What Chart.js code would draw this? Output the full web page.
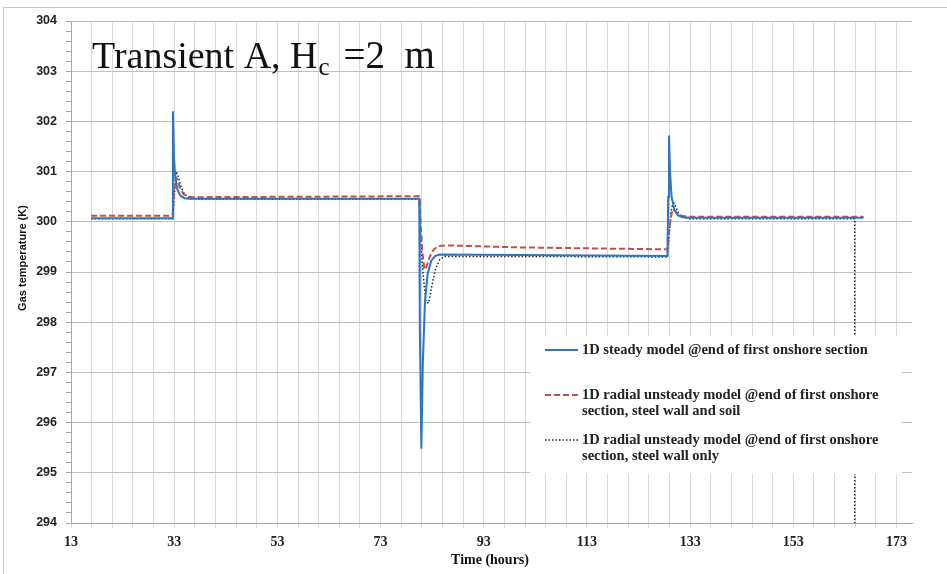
<!DOCTYPE html>
<html>
<head>
<meta charset="utf-8">
<script src="https://cdn.jsdelivr.net/npm/chart.js@4"></script>
<style>
  body { margin: 0; background: #fff; }
  #wrap { position: relative; width: 947px; height: 574px; }
</style>
</head>
<body>
<div id="wrap"><canvas id="chart" width="947" height="574"></canvas></div>
<script>
// x tick labels + axis ranges
const xMin = 13, xMax = 176;
const yMin = 294, yMax = 304;
const xLabelValues = [13, 33, 53, 73, 93, 113, 133, 153, 173];

// 1D steady model
const steadyTime = [16.9, 32.6, 32.75, 32.95, 33.2, 33.6, 34.2, 35, 36, 80.5, 80.6, 80.9, 81.2, 81.6, 82.1, 82.8, 83.6, 84.5, 100, 128.6, 128.75, 128.9, 129.1, 129.4, 129.9, 130.6, 131.5, 133, 166.6];
const steadyTemp = [300.07, 300.07, 302.2, 301.3, 300.9, 300.65, 300.52, 300.47, 300.46, 300.46, 298.0, 295.48, 297.2, 298.4, 298.95, 299.22, 299.32, 299.35, 299.34, 299.32, 300.5, 301.72, 301.0, 300.5, 300.25, 300.13, 300.09, 300.08, 300.08];

// 1D radial unsteady, steel wall and soil
const soilTime = [16.9, 32.7, 33.0, 33.3, 33.6, 34.1, 34.8, 35.8, 37, 80.5, 80.7, 81.1, 81.5, 81.9, 82.5, 83.3, 84.3, 86, 100, 128.6, 128.8, 129.2, 129.6, 130.2, 131, 132.5, 166.6];
const soilTemp = [300.12, 300.12, 300.6, 300.88, 300.85, 300.68, 300.55, 300.5, 300.49, 300.51, 300.1, 299.4, 299.05, 299.1, 299.3, 299.45, 299.52, 299.53, 299.49, 299.45, 299.7, 300.05, 300.25, 300.2, 300.13, 300.1, 300.1];

// 1D radial unsteady, steel wall only
const wallTime = [16.9, 32.7, 33.0, 33.4, 33.8, 34.3, 35, 36, 37.5, 80.5, 80.8, 81.3, 81.8, 82.3, 82.9, 83.6, 84.5, 85.5, 100, 128.6, 128.9, 129.3, 129.7, 130.2, 130.8, 131.8, 133, 164.9, 164.9];
const wallTemp = [300.06, 300.06, 300.5, 301.0, 300.9, 300.7, 300.55, 300.47, 300.45, 300.45, 299.6, 298.9, 298.4, 298.38, 298.7, 299.05, 299.25, 299.31, 299.31, 299.3, 299.7, 300.2, 300.41, 300.3, 300.15, 300.08, 300.06, 300.06, 290];

const seriesNames = [
  ['1D steady model @end of first onshore section'],
  ['1D radial unsteady model @end of first onshore', 'section, steel wall and soil'],
  ['1D radial unsteady model @end of first onshore', 'section, steel wall only']
];

function pairs(xs, ys) {
  return xs.map((x, i) => ({ x: x, y: ys[i] }));
}

// titles, legend box and frame
const decorPlugin = {
  id: 'decor',
  afterDatasetsDraw(chart) {
    const ctx = chart.ctx;
    const ds = chart.data.datasets;
    ctx.save();
    // legend box
    ctx.fillStyle = '#fff';
    ctx.fillRect(530, 336, 372, 138);
    const rows = [350, 395, 440];
    rows.forEach((y, i) => {
      ctx.beginPath();
      ctx.strokeStyle = ds[i].borderColor;
      ctx.lineWidth = ds[i].borderWidth;
      ctx.setLineDash(ds[i].borderDash || []);
      ctx.moveTo(545, y);
      ctx.lineTo(578, y);
      ctx.stroke();
      ctx.setLineDash([]);
      ctx.fillStyle = '#222';
      ctx.font = 'bold 14.5px "Liberation Serif"';
      ctx.textBaseline = 'middle';
      ctx.textAlign = 'left';
      seriesNames[i].forEach((t, j) => ctx.fillText(t, 582, y + j * 16));
    });
    ctx.restore();
  },
  afterDraw(chart) {
    const ctx = chart.ctx;
    ctx.save();
    // frame
    ctx.strokeStyle = '#c8c8c8';
    ctx.lineWidth = 1;
    ctx.beginPath();
    ctx.moveTo(947, 7.5);
    ctx.lineTo(3.5, 7.5);
    ctx.lineTo(3.5, 574);
    ctx.stroke();

    // big title with subscript
    ctx.fillStyle = '#111';
    ctx.textBaseline = 'alphabetic';
    ctx.textAlign = 'left';
    let x = 92;
    ctx.font = '38px "Liberation Serif"';
    ctx.fillText('Transient A, H', x, 68);
    x += ctx.measureText('Transient A, H').width + 1;
    ctx.font = '25px "Liberation Serif"';
    ctx.fillText('c', x, 75);
    x += ctx.measureText('c').width + 4;
    ctx.font = '39px "Liberation Serif"';
    ctx.fillText(' =2  m', x, 68);

    // axis titles
    ctx.font = 'bold 14px "Liberation Serif"';
    ctx.textAlign = 'center';
    ctx.textBaseline = 'middle';
    ctx.fillText('Time (hours)', 490, 560);
    ctx.translate(23, 258);
    ctx.rotate(-Math.PI / 2);
    ctx.font = 'bold 11px "Liberation Sans"';
    ctx.fillText('Gas temperature (K)', 0, 0);
    ctx.restore();
  }
};

new Chart(document.getElementById('chart'), {
  type: 'line',
  data: {
    datasets: [
      { data: pairs(steadyTime, steadyTemp), borderColor: '#2e75c0', borderWidth: 2, pointRadius: 0, tension: 0 },
      { data: pairs(soilTime, soilTemp), borderColor: '#c0504d', borderWidth: 2, borderDash: [6, 3], pointRadius: 0, tension: 0 },
      { data: pairs(wallTime, wallTemp), borderColor: '#222', borderWidth: 1.5, borderDash: [1.5, 2], pointRadius: 0, tension: 0 }
    ]
  },
  options: {
    responsive: false,
    animation: false,
    devicePixelRatio: 1,
    layout: { padding: { left: 0, top: 21, right: 35, bottom: 0 } },
    plugins: { legend: { display: false }, tooltip: { enabled: false } },
    scales: {
      x: {
        type: 'linear',
        min: xMin,
        max: xMax,
        afterBuildTicks: s => {
          const t = [];
          for (let v = xMin; v <= 173; v += 4) t.push({ value: v });
          s.ticks = t;
        },
        afterFit: s => { s.height = 51; },
        ticks: {
          autoSkip: false,
          maxRotation: 0,
          padding: 6,
          color: '#222',
          font: { family: 'Liberation Serif', size: 14, weight: 'bold' },
          callback: v => xLabelValues.includes(v) ? String(v) : ''
        },
        grid: { color: '#d9d9d9', tickColor: '#d9d9d9', tickLength: 5 },
        border: { color: '#a6a6a6' }
      },
      y: {
        min: yMin,
        max: yMax,
        afterBuildTicks: s => {
          const t = [];
          for (let i = 0; i <= 50; i++) t.push({ value: yMin + i * 0.2 });
          s.ticks = t;
        },
        afterFit: s => { s.width = 71; },
        ticks: {
          autoSkip: false,
          padding: 9,
          color: '#222',
          font: { family: 'Liberation Sans', size: 12.5, weight: 'bold' },
          callback: (v, i) => i % 5 === 0 ? String(Math.round(v)) : ''
        },
        grid: {
          color: c => (c.index % 5 === 0 ? '#bfbfbf' : 'rgba(0,0,0,0)'),
          tickColor: '#a6a6a6',
          tickLength: 5
        },
        border: { color: '#a6a6a6' }
      }
    }
  },
  plugins: [decorPlugin]
});
</script>
</body>
</html>
